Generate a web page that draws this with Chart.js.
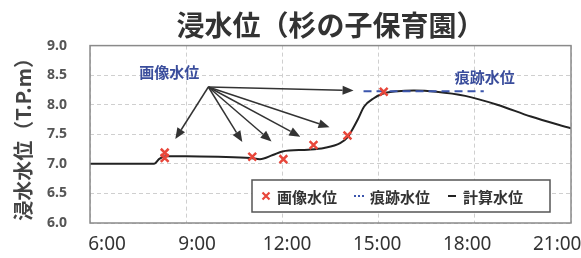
<!DOCTYPE html>
<html lang="ja">
<head>
<meta charset="UTF-8" />
<title>浸水位（杉の子保育園）</title>
<script src="https://cdn.jsdelivr.net/npm/chart.js@4.4.1/dist/chart.umd.min.js"></script>
<style>
  html, body { margin: 0; padding: 0; background: #fff; }
</style>
</head>
<body>
<canvas id="level" width="581" height="258"></canvas>
<script>
// times are hours of the day (6 = 6:00)
const calcTimes = [6.0, 8.0, 8.15, 8.35, 9.0, 10.0, 11.0, 11.3, 11.7, 12.0, 12.8, 13.3, 13.8, 14.03, 14.15, 14.35, 14.55, 14.85, 15.15, 15.6, 16.1, 16.8, 17.7, 18.7, 19.75, 21.0]
const calcLevels = [7.0, 7.0, 7.08, 7.13, 7.13, 7.12, 7.1, 7.08, 7.15, 7.21, 7.24, 7.27, 7.35, 7.45, 7.55, 7.75, 7.97, 8.11, 8.19, 8.23, 8.24, 8.22, 8.15, 8.0, 7.8, 7.6]

const imageTimes = [8.33, 8.33, 11.06, 12.03, 12.97, 14.03, 15.16]
const imageLevels = [7.19, 7.1, 7.12, 7.08, 7.32, 7.48, 8.22]

const traceTimes = [14.53, 18.28]
const traceLevels = [8.23, 8.23]

const hourTicks = [6, 9, 12, 15, 18, 21]

// arrows from the 画像水位 note
const arrowFrom = [9.69, 8.3]
const arrowToTimes = [8.66, 10.75, 11.66, 12.56, 13.47, 14.22]
const arrowToLevels = [7.42, 7.37, 7.38, 7.46, 7.62, 8.24]

const noteTexts = ['画像水位', '痕跡水位']
const noteTimes = [8.47, 18.31]
const noteLevels = [8.55, 8.46]

const CJK = "'Noto Sans CJK JP', 'Noto Sans', sans-serif"
const RED = '#e8473b'
const BLUE = '#3b55ad'
const BLACK = '#222'

Chart.defaults.font.family = CJK

const toPoints = (xs, ys) => xs.map((x, i) => ({ x, y: ys[i] }))

const extras = {
  id: 'extras',
  afterDatasetsDraw(chart) {
    const { ctx, chartArea: a, scales: { x, y } } = chart
    ctx.save()

    // arrows
    ctx.strokeStyle = '#333'
    ctx.fillStyle = '#333'
    ctx.lineWidth = 1.5
    const ox = x.getPixelForValue(arrowFrom[0])
    const oy = y.getPixelForValue(arrowFrom[1])
    arrowToTimes.forEach((t, i) => {
      const tx = x.getPixelForValue(t)
      const ty = y.getPixelForValue(arrowToLevels[i])
      const ang = Math.atan2(ty - oy, tx - ox)
      const len = 11, w = 4.5
      const bx = tx - len * Math.cos(ang), by = ty - len * Math.sin(ang)
      ctx.beginPath()
      ctx.moveTo(ox, oy)
      ctx.lineTo(bx, by)
      ctx.stroke()
      ctx.beginPath()
      ctx.moveTo(tx, ty)
      ctx.lineTo(bx + w * Math.sin(ang), by - w * Math.cos(ang))
      ctx.lineTo(bx - w * Math.sin(ang), by + w * Math.cos(ang))
      ctx.closePath()
      ctx.fill()
    })

    // notes
    ctx.font = 'bold 15px ' + CJK
    ctx.fillStyle = '#3a4d9c'
    ctx.textAlign = 'center'
    ctx.textBaseline = 'middle'
    noteTexts.forEach((s, i) => {
      ctx.fillText(s, x.getPixelForValue(noteTimes[i]), y.getPixelForValue(noteLevels[i]))
    })

    // plot frame
    ctx.strokeStyle = '#8a8a8a'
    ctx.lineWidth = 1.5
    ctx.strokeRect(a.left, a.top, a.width, a.height)

    // legend box inside the plot
    const left = a.right - 319, top = a.bottom - 43
    ctx.fillStyle = '#fff'
    ctx.fillRect(left, top, 298, 32)
    ctx.strokeStyle = '#555'
    ctx.lineWidth = 1.5
    ctx.strokeRect(left, top, 298, 32)
    const cy = top + 16
    let cx = left + 14
    ctx.font = 'bold 15px ' + CJK
    ctx.textAlign = 'left'
    chart.data.datasets.forEach((ds) => {
      if (ds.kind === 'cross') {
        ctx.strokeStyle = RED
        ctx.lineWidth = 2.2
        ctx.beginPath()
        ctx.moveTo(cx - 3.5, cy - 3.5); ctx.lineTo(cx + 3.5, cy + 3.5)
        ctx.moveTo(cx + 3.5, cy - 3.5); ctx.lineTo(cx - 3.5, cy + 3.5)
        ctx.stroke()
      } else if (ds.kind === 'dots') {
        ctx.fillStyle = BLUE
        for (let k = -1; k <= 1; k++) ctx.fillRect(cx + k * 4 - 1, cy - 1, 2, 2)
      } else {
        ctx.strokeStyle = BLACK
        ctx.lineWidth = 2
        ctx.beginPath()
        ctx.moveTo(cx - 4, cy); ctx.lineTo(cx + 4, cy)
        ctx.stroke()
      }
      ctx.fillStyle = '#333'
      ctx.fillText(ds.label, cx + 11, cy + 1)
      cx += 11 + ctx.measureText(ds.label).width + 22
    })

    ctx.restore()
  },
}

new Chart(document.getElementById('level'), {
  type: 'line',
  data: {
    datasets: [
      {
        label: '画像水位',
        kind: 'cross',
        data: toPoints(imageTimes, imageLevels),
        showLine: false,
        pointStyle: 'crossRot',
        pointRadius: 5.5,
        borderColor: RED,
        pointBorderWidth: 2.5,
        order: 0,
      },
      {
        label: '痕跡水位',
        kind: 'dots',
        data: toPoints(traceTimes, traceLevels),
        borderColor: BLUE,
        borderWidth: 2,
        borderDash: [8, 5],
        pointRadius: 0,
        order: 1,
      },
      {
        label: '計算水位',
        kind: 'line',
        data: toPoints(calcTimes, calcLevels),
        borderColor: BLACK,
        borderWidth: 2,
        cubicInterpolationMode: 'monotone',
        pointRadius: 0,
        order: 2,
      },
    ],
  },
  options: {
    responsive: false,
    animation: false,
    layout: { padding: { top: 0, right: 10, bottom: 0, left: 0 } },
    plugins: {
      legend: { display: false },
      tooltip: { enabled: false },
      title: {
        display: true,
        text: '浸水位（杉の子保育園）',
        fullSize: false,
        color: '#333',
        font: { size: 28, weight: 'bold', family: CJK },
        padding: { top: 9, bottom: 3 },
      },
    },
    scales: {
      x: {
        type: 'linear',
        min: 6,
        max: 21,
        ticks: { display: false, stepSize: 3 },
        grid: { color: '#cfcfcf', drawTicks: false },
        border: { display: false, dash: [4, 3] },
        afterFit: (s) => { s.height = 0; s.paddingLeft = 0; s.paddingRight = 0 },
      },
      xl: {
        type: 'linear',
        position: 'bottom',
        min: 5.43,
        max: 21.46,
        grid: { display: false, drawTicks: false },
        border: { display: false },
        ticks: {
          autoSkip: false,
          maxRotation: 0,
          padding: 10,
          color: '#333',
          font: { size: 19, family: "'Noto Sans', sans-serif" },
          callback: (v) => v + ':00',
        },
        afterBuildTicks: (s) => { s.ticks = hourTicks.map((v) => ({ value: v })) },
        afterFit: (s) => { s.height = 35; s.paddingLeft = 0; s.paddingRight = 0 },
      },
      y: {
        min: 6,
        max: 9,
        ticks: {
          stepSize: 0.5,
          padding: 23,
          color: '#555',
          font: { size: 14, weight: 'bold', family: "'Noto Sans', sans-serif" },
          callback: (v) => v.toFixed(1),
        },
        grid: { color: '#cfcfcf', drawTicks: false },
        border: { display: false, dash: [4, 3] },
        title: {
          display: true,
          text: '浸水水位（T.P.m）',
          color: '#444',
          font: { size: 20, weight: 'bold', family: CJK },
          padding: { top: 11, bottom: 0 },
        },
        afterFit: (s) => { s.width = 90; s.paddingTop = 0; s.paddingBottom = 0 },
      },
    },
  },
  plugins: [extras],
})
</script>
</body>
</html>
